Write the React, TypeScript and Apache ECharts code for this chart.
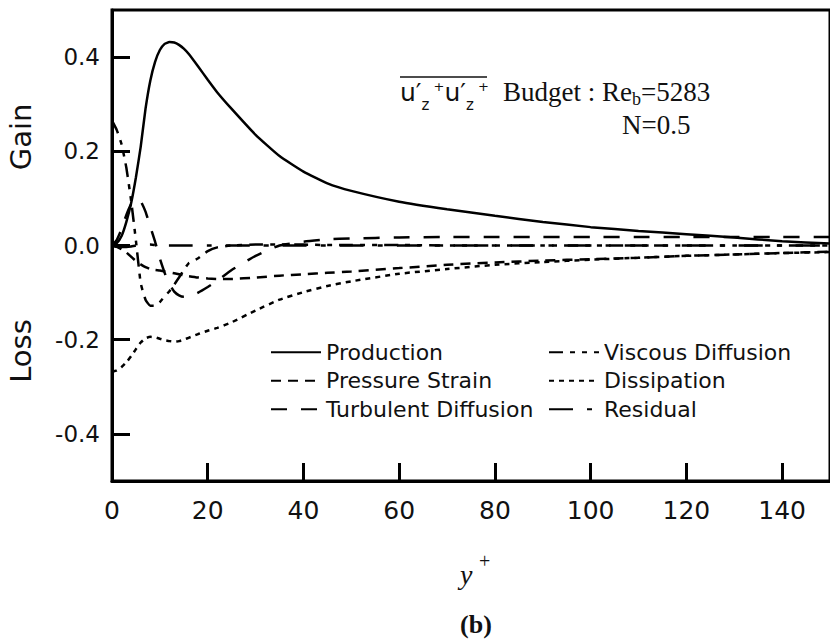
import React, { useEffect, useRef } from "react";
import * as echarts from "echarts";

const yPlus = [0, 1, 2, 3, 4, 5, 6, 7, 8, 9, 10, 11, 12, 13, 14, 15, 16, 18, 20, 22, 25, 30, 35, 40, 45, 50, 60, 70, 80, 90, 100, 110, 120, 130, 140, 150];

const production = [0, 0.005, 0.02, 0.05, 0.09, 0.145, 0.21, 0.29, 0.35, 0.39, 0.415, 0.428, 0.432, 0.431, 0.426, 0.418, 0.407, 0.38, 0.352, 0.325, 0.29, 0.235, 0.19, 0.157, 0.132, 0.116, 0.093, 0.077, 0.063, 0.05, 0.039, 0.031, 0.024, 0.017, 0.009, 0.004];
const pressureStrain = [0, -0.003, -0.008, -0.015, -0.024, -0.033, -0.04, -0.046, -0.05, -0.052, -0.053, -0.055, -0.057, -0.059, -0.061, -0.063, -0.065, -0.068, -0.07, -0.071, -0.071, -0.068, -0.064, -0.061, -0.058, -0.055, -0.048, -0.041, -0.036, -0.032, -0.029, -0.026, -0.022, -0.019, -0.016, -0.013];
const turbulentDiffusion = [0, 0.012, 0.035, 0.065, 0.088, 0.098, 0.094, 0.072, 0.04, 0.008, -0.028, -0.058, -0.082, -0.098, -0.106, -0.109, -0.109, -0.1, -0.088, -0.075, -0.052, -0.022, 0, 0.008, 0.013, 0.015, 0.017, 0.018, 0.018, 0.018, 0.018, 0.018, 0.018, 0.018, 0.018, 0.018];
const viscousDiffusion = [0.265, 0.245, 0.215, 0.165, 0.095, 0.01, -0.08, -0.115, -0.128, -0.128, -0.12, -0.108, -0.097, -0.083, -0.068, -0.052, -0.038, -0.027, -0.012, -0.004, 0, 0.002, 0.002, 0.002, 0.001, 0.001, 0.001, 0, 0, 0, 0, 0, 0, 0, 0, 0];
const dissipation = [-0.268, -0.265, -0.258, -0.248, -0.235, -0.22, -0.206, -0.197, -0.194, -0.195, -0.198, -0.201, -0.203, -0.204, -0.203, -0.2, -0.196, -0.188, -0.181, -0.175, -0.163, -0.138, -0.115, -0.099, -0.086, -0.076, -0.06, -0.05, -0.041, -0.035, -0.03, -0.026, -0.022, -0.019, -0.016, -0.014];
const residual = [0, -0.002, -0.003, -0.003, -0.002, 0, 0.001, 0.002, 0.002, 0.001, 0, 0, 0, 0, 0, 0, 0, 0, 0, 0, 0, 0, 0, 0, 0, 0, 0, 0, 0, 0, 0, 0, 0, 0, 0, 0];

const seriesNames = ["Production", "Pressure Strain", "Turbulent Diffusion", "Viscous Diffusion", "Dissipation", "Residual"];
const xTicks = [0, 20, 40, 60, 80, 100, 120, 140];
const yTicks = [-0.4, -0.2, 0, 0.2, 0.4];

const SANS = "'DejaVu Sans', sans-serif";
const SERIF = "'Liberation Serif', 'Times New Roman', serif";

export default function App() {
  const ref = useRef<HTMLDivElement>(null);
  useEffect(() => {
    if (!ref.current) return;
    const chart = echarts.init(ref.current, null, { renderer: "svg" });
    const values = [production, pressureStrain, turbulentDiffusion, viscousDiffusion, dissipation, residual];
    const dashes: any[] = ["solid", [10, 7], [16, 14], [14, 7, 5, 7, 5, 7], [5, 5], [24, 14, 5, 14]];
    const series = seriesNames.map((name, k) => ({
      name,
      type: "line",
      data: yPlus.map((x, i) => [x, values[k][i]]),
      symbol: "none",
      showSymbol: false,
      smooth: 0.15,
      lineStyle: { color: "#000", width: 2.5, type: dashes[k] },
      itemStyle: { color: "#000" },
      z: 3,
    }));
    const legendCommon = {
      orient: "vertical",
      itemWidth: 50,
      itemHeight: 14,
      itemGap: 6,
      padding: 0,
      itemStyle: { opacity: 0, color: "transparent", borderWidth: 0 },
      textStyle: { fontFamily: SANS, fontSize: 22, color: "#111", lineHeight: 22.5 },
    };
    chart.setOption({
      animation: false,
      backgroundColor: "#fff",
      grid: { left: 112, top: 10, width: 727, height: 471, show: true, borderColor: "#000", borderWidth: 3, backgroundColor: "transparent" },
      xAxis: {
        type: "value",
        min: 0,
        max: 150,
        interval: 20,
        axisLine: { show: true, onZero: false, lineStyle: { color: "#000", width: 3 } },
        axisTick: { show: true, inside: true, length: 18, lineStyle: { color: "#000", width: 3 }, customValues: xTicks },
        axisLabel: { show: true, margin: 17, fontFamily: SANS, fontSize: 25, color: "#111", customValues: xTicks, formatter: (v: number) => String(v) },
        splitLine: { show: false },
      },
      yAxis: {
        type: "value",
        min: -0.5,
        max: 0.5,
        axisLine: { show: true, onZero: false, lineStyle: { color: "#000", width: 3 } },
        axisTick: { show: true, inside: true, length: 18, lineStyle: { color: "#000", width: 3 }, customValues: yTicks },
        axisLabel: { show: true, margin: 12, fontFamily: SANS, fontSize: 23, color: "#111", customValues: yTicks, formatter: (v: number) => v.toFixed(1) },
        splitLine: { show: false },
      },
      legend: [
        { ...legendCommon, left: 270, top: 341, data: seriesNames.slice(0, 3) },
        { ...legendCommon, left: 548, top: 341, data: seriesNames.slice(3, 6) },
      ],
      graphic: [
        { type: "text", x: 21, y: 137, rotation: Math.PI / 2, style: { text: "Gain", font: `29px ${SANS}`, fill: "#111", align: "center", verticalAlign: "middle" } },
        { type: "text", x: 21, y: 351, rotation: Math.PI / 2, style: { text: "Loss", font: `29px ${SANS}`, fill: "#111", align: "center", verticalAlign: "middle" } },
        { type: "line", shape: { x1: 400, y1: 77, x2: 487, y2: 77 }, style: { stroke: "#111", lineWidth: 1.5 } },
        {
          type: "text",
          x: 400,
          y: 72,
          style: {
            text: "{u|u′}{z|z}{p| +}{u|u′}{z|z}{p| +}",
            align: "left",
            verticalAlign: "top",
            fill: "#111",
            rich: {
              u: { fontFamily: SANS, fontSize: 25, lineHeight: 40, verticalAlign: "middle", fill: "#111" },
              z: { fontFamily: SANS, fontSize: 15, lineHeight: 16, verticalAlign: "bottom", fill: "#111" },
              p: { fontFamily: SANS, fontSize: 13, lineHeight: 13, verticalAlign: "top", padding: [8, 0, 0, 0], fill: "#111" },
            },
          },
        },
        {
          type: "text",
          x: 503,
          y: 76,
          style: {
            text: "{a|Budget : Re}{b|b}{a|=5283}",
            align: "left",
            verticalAlign: "top",
            fill: "#111",
            rich: {
              a: { fontFamily: SERIF, fontSize: 27, lineHeight: 32, verticalAlign: "middle", fill: "#111" },
              b: { fontFamily: SERIF, fontSize: 18, lineHeight: 14, verticalAlign: "bottom", fill: "#111" },
            },
          },
        },
        { type: "text", x: 622, y: 125, style: { text: "N=0.5", font: `27px ${SERIF}`, fill: "#111", align: "left", verticalAlign: "middle" } },
        { type: "text", x: 460, y: 574, style: { text: "y", font: `italic 28px ${SERIF}`, fill: "#111", align: "left", verticalAlign: "middle" } },
        { type: "text", x: 479, y: 561, style: { text: "+", font: `20px ${SERIF}`, fill: "#111", align: "left", verticalAlign: "middle" } },
        { type: "text", x: 476, y: 624, style: { text: "(b)", font: `bold 26px ${SERIF}`, fill: "#111", align: "center", verticalAlign: "middle" } },
      ],
      series,
    });
    return () => chart.dispose();
  }, []);
  return <div ref={ref} style={{ position: "absolute", left: 0, top: 0, width: 830, height: 641, background: "#fff" }} />;
}
